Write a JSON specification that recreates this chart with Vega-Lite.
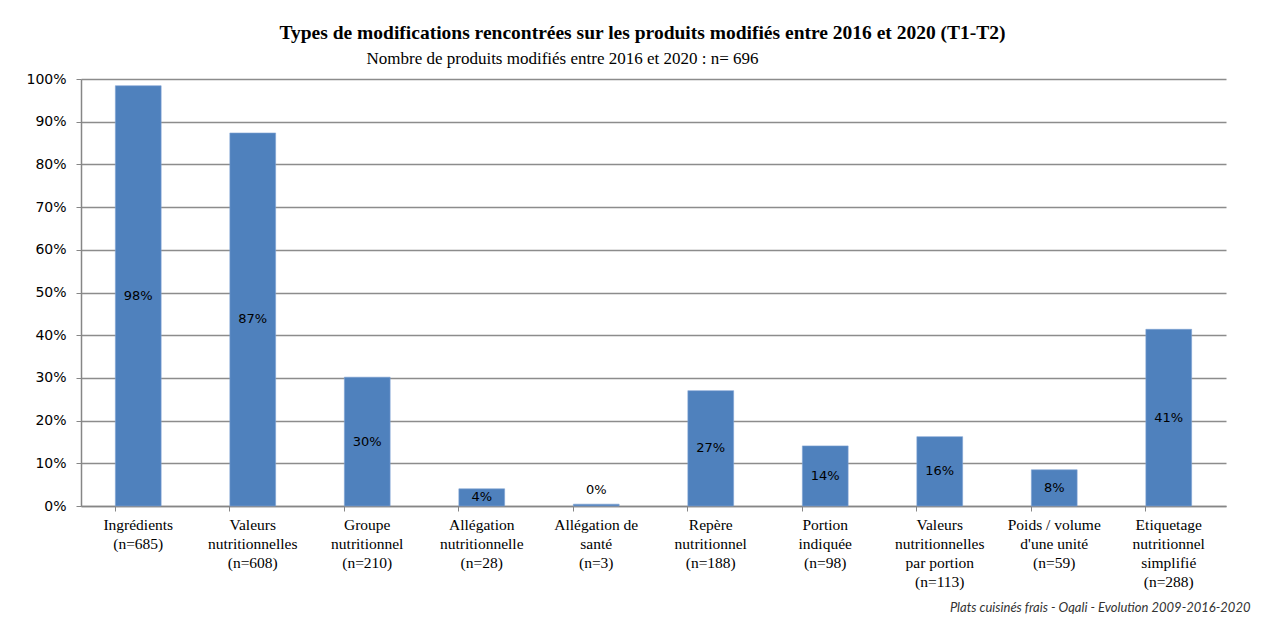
{
  "$schema": "https://vega.github.io/schema/vega-lite/v6.json",
  "width": 1145,
  "height": 427,
  "autosize": {"type": "none"},
  "padding": {"left": 81, "top": 79, "right": 41, "bottom": 113},
  "background": "white",
  "title": {
    "text": "Types de modifications rencontrées sur les produits modifiés entre 2016 et 2020 (T1-T2)",
    "anchor": "middle",
    "frame": "group",
    "font": "Liberation Serif",
    "fontSize": 19.5,
    "fontWeight": "bold",
    "color": "#000000",
    "dx": -11,
    "offset": 6
  },
  "data": {
    "values": [
      {"cat": "Ingrédients|(n=685)", "pct": 0.9842},
      {"cat": "Valeurs|nutritionnelles|(n=608)", "pct": 0.8736},
      {"cat": "Groupe|nutritionnel|(n=210)", "pct": 0.3017},
      {"cat": "Allégation|nutritionnelle|(n=28)", "pct": 0.0402},
      {"cat": "Allégation de|santé|(n=3)", "pct": 0.0043},
      {"cat": "Repère|nutritionnel|(n=188)", "pct": 0.2701},
      {"cat": "Portion|indiquée|(n=98)", "pct": 0.1408},
      {"cat": "Valeurs|nutritionnelles|par portion|(n=113)", "pct": 0.1624},
      {"cat": "Poids / volume|d'une unité|(n=59)", "pct": 0.0848},
      {"cat": "Etiquetage|nutritionnel|simplifié|(n=288)", "pct": 0.4138}
    ]
  },
  "transform": [
    {"calculate": "datum.pct < 0.01 ? 0.037 : datum.pct / 2", "as": "labelPos"}
  ],
  "encoding": {
    "x": {
      "field": "cat",
      "type": "nominal",
      "sort": null,
      "scale": {"paddingInner": 0.6, "paddingOuter": 0.3},
      "axis": {
        "labelExpr": "split(datum.label, '|')",
        "labelAngle": 0,
        "labelFont": "Liberation Serif",
        "labelFontSize": 15.5,
        "labelLineHeight": 19,
        "labelColor": "#000000",
        "labelPadding": 6,
        "labelBaseline": "top",
        "labelLimit": 200,
        "bandPosition": 0,
        "tickSize": 5,
        "tickColor": "#868686",
        "domainColor": "#868686",
        "domainWidth": 1.5,
        "grid": false,
        "title": "Plats cuisinés frais - Oqali - Evolution 2009-2016-2020",
        "titleFont": "Lato",
        "titleFontStyle": "italic",
        "titleFontWeight": "normal",
        "titleFontSize": 13,
        "titleColor": "#333333",
        "titleAnchor": null,
        "titleAlign": "right",
        "titleBaseline": "alphabetic",
        "titleX": 1169,
        "titleY": 105
      }
    }
  },
  "layer": [
    {
      "mark": {"type": "bar", "color": "#4F81BD", "stroke": "#7FA3D3", "strokeWidth": 0.6},
      "encoding": {
        "y": {
          "field": "pct",
          "type": "quantitative",
          "scale": {"domain": [0, 1], "nice": false},
          "axis": {
            "format": ".0%",
            "values": [0, 0.1, 0.2, 0.3, 0.4, 0.5, 0.6, 0.7, 0.8, 0.9, 1],
            "labelOverlap": false,
            "labelFont": "DejaVu Sans",
            "labelFontSize": 14,
            "labelColor": "#000000",
            "labelPadding": 10,
            "tickSize": 5,
            "tickColor": "#868686",
            "domainColor": "#868686",
            "domainWidth": 1.5,
            "grid": true,
            "gridColor": "#8c8c8c",
            "gridWidth": 1.5,
            "title": "Nombre de produits modifiés entre 2016 et 2020 : n= 696",
            "titleFont": "Liberation Serif",
            "titleFontSize": 17,
            "titleFontWeight": "normal",
            "titleColor": "#000000",
            "titleAngle": 0,
            "titleAnchor": null,
            "titleAlign": "left",
            "titleBaseline": "alphabetic",
            "titleX": 285,
            "titleY": -16
          }
        }
      }
    },
    {
      "mark": {"type": "text", "font": "DejaVu Sans", "fontSize": 13, "color": "#000000", "baseline": "middle", "align": "center"},
      "encoding": {
        "y": {
          "field": "labelPos",
          "type": "quantitative",
          "axis": {
            "format": ".0%",
            "values": [0, 0.1, 0.2, 0.3, 0.4, 0.5, 0.6, 0.7, 0.8, 0.9, 1],
            "labelOverlap": false,
            "labelFont": "DejaVu Sans",
            "labelFontSize": 14,
            "labelColor": "#000000",
            "labelPadding": 10,
            "tickSize": 5,
            "tickColor": "#868686",
            "domainColor": "#868686",
            "domainWidth": 1.5,
            "grid": true,
            "gridColor": "#8c8c8c",
            "gridWidth": 1.5,
            "title": "Nombre de produits modifiés entre 2016 et 2020 : n= 696",
            "titleFont": "Liberation Serif",
            "titleFontSize": 17,
            "titleFontWeight": "normal",
            "titleColor": "#000000",
            "titleAngle": 0,
            "titleAnchor": null,
            "titleAlign": "left",
            "titleBaseline": "alphabetic",
            "titleX": 285,
            "titleY": -16
          }
        },
        "text": {"field": "pct", "type": "quantitative", "format": ".0%"}
      }
    }
  ],
  "config": {"view": {"stroke": null}}
}
